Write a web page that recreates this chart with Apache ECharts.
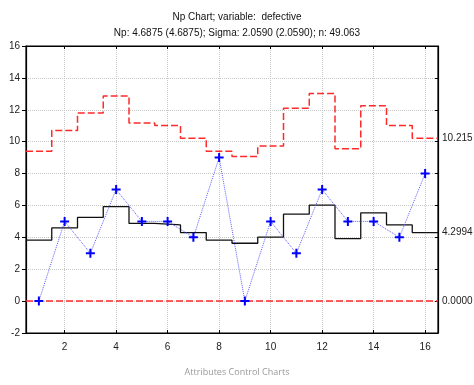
<!DOCTYPE html>
<html><head><meta charset="utf-8">
<script src="https://cdn.jsdelivr.net/npm/echarts@6/dist/echarts.min.js"></script>
<style>html,body{margin:0;padding:0;background:#fff}#c{width:474px;height:385px}</style>
</head><body><div id="c"></div>
<script>
const samples = [1,2,3,4,5,6,7,8,9,10,11,12,13,14,15,16];
const defects = [0,5,3,7,5,5,4,9,0,5,3,7,5,5,4,8];
const centerLine = [3.82,4.59,5.25,5.92,4.87,4.78,4.30,3.82,3.63,4.01,5.45,6.02,3.92,5.54,4.78,4.30];
const upperLimit = [9.40,10.70,11.80,12.87,11.17,11.01,10.22,9.40,9.07,9.73,12.10,13.02,9.56,12.26,11.01,10.22];
const lowerLimit = [0,0,0,0,0,0,0,0,0,0,0,0,0,0,0,0];
const limitLabels = {ucl:'10.215', cl:'4.2994', lcl:'0.0000'};
const xTicks = [2,4,6,8,10,12,14,16];
const titleText = 'Np Chart; variable:  defective';
const subText = 'Np: 4.6875 (4.6875); Sigma: 2.0590 (2.0590); n: 49.063';
const footer = 'Attributes Control Charts';

function stepPts(vals){
  const out=[];
  vals.forEach((v,i)=>{ out.push([samples[i]-0.5,v]); out.push([samples[i]+0.5,v]); });
  return out;
}
const FONT='Liberation Sans';
const plus='path://M3.5,0 L5.5,0 L5.5,3.5 L9,3.5 L9,5.5 L5.5,5.5 L5.5,9 L3.5,9 L3.5,5.5 L0,5.5 L0,3.5 L3.5,3.5 Z';
const chart=echarts.init(document.getElementById('c'));
const endLbl=(t)=>({show:true,formatter:t,color:'#222',fontFamily:FONT,fontSize:10,distance:4});
chart.setOption({
  animation:false,
  title:[
    {text:titleText,left:'center',top:7,textStyle:{fontFamily:FONT,fontSize:10,fontWeight:'normal',color:'#111'}},
    {text:subText,left:'center',top:23,textStyle:{fontFamily:FONT,fontSize:10,fontWeight:'normal',color:'#111'}},
    {text:footer,left:'center',bottom:3,textStyle:{fontFamily:'Open Sans',fontSize:9,fontWeight:'normal',color:'#999'}}
  ],
  grid:{left:26,right:36,top:46,bottom:52,show:true,borderColor:'#000',borderWidth:1.2},
  xAxis:[{
    type:'value',min:0.5,max:16.5,
    axisLine:{show:true,onZero:false,lineStyle:{color:'#000',width:1.2}},
    axisTick:{show:true,inside:true,customValues:xTicks,length:3,lineStyle:{color:'#000'}},
    axisLabel:{customValues:xTicks,color:'#222',fontFamily:FONT,fontSize:10,margin:9},
    splitLine:{show:true,lineStyle:{color:'#c8c8c8',type:'dotted'}}
  },{
    type:'value',position:'top',min:0.5,max:16.5,
    axisLine:{show:true,onZero:false,lineStyle:{color:'#000',width:1.2}},
    axisTick:{show:true,inside:true,customValues:xTicks,length:3,lineStyle:{color:'#000'}},
    axisLabel:{show:false},splitLine:{show:false}
  }],
  yAxis:[{
    type:'value',min:-2,max:16,interval:2,
    axisLine:{show:true,onZero:false,lineStyle:{color:'#000',width:1.2}},
    axisTick:{show:true,length:4,lineStyle:{color:'#000'}},
    axisLabel:{color:'#222',fontFamily:FONT,fontSize:10,margin:6},
    splitLine:{show:true,lineStyle:{color:'#c8c8c8',type:'dotted'}}
  },{
    type:'value',position:'right',min:-2,max:16,interval:2,
    axisLine:{show:true,onZero:false,lineStyle:{color:'#000',width:1.2}},
    axisTick:{show:true,inside:true,length:3,lineStyle:{color:'#000'}},
    axisLabel:{show:false},splitLine:{show:false}
  }],
  series:[
    {type:'line',data:stepPts(upperLimit),symbol:'none',lineStyle:{color:'#ff2a2a',width:1.5,type:[7,3]},endLabel:endLbl(limitLabels.ucl),z:3},
    {type:'line',data:[[samples[0]-0.5,lowerLimit[0]],[samples[samples.length-1]+0.5,lowerLimit[lowerLimit.length-1]]],symbol:'none',lineStyle:{color:'#ff2a2a',width:1.5,type:[7,3]},endLabel:endLbl(limitLabels.lcl),z:3},
    {type:'line',data:stepPts(centerLine),symbol:'none',lineStyle:{color:'#111',width:1.3},endLabel:endLbl(limitLabels.cl),z:3},
    {type:'line',data:samples.map((s,i)=>[s,defects[i]]),symbol:plus,symbolSize:9,itemStyle:{color:'#0000ff'},lineStyle:{color:'#5a5aff',width:1,type:'dotted'},z:5}
  ]
});
</script></body></html>
